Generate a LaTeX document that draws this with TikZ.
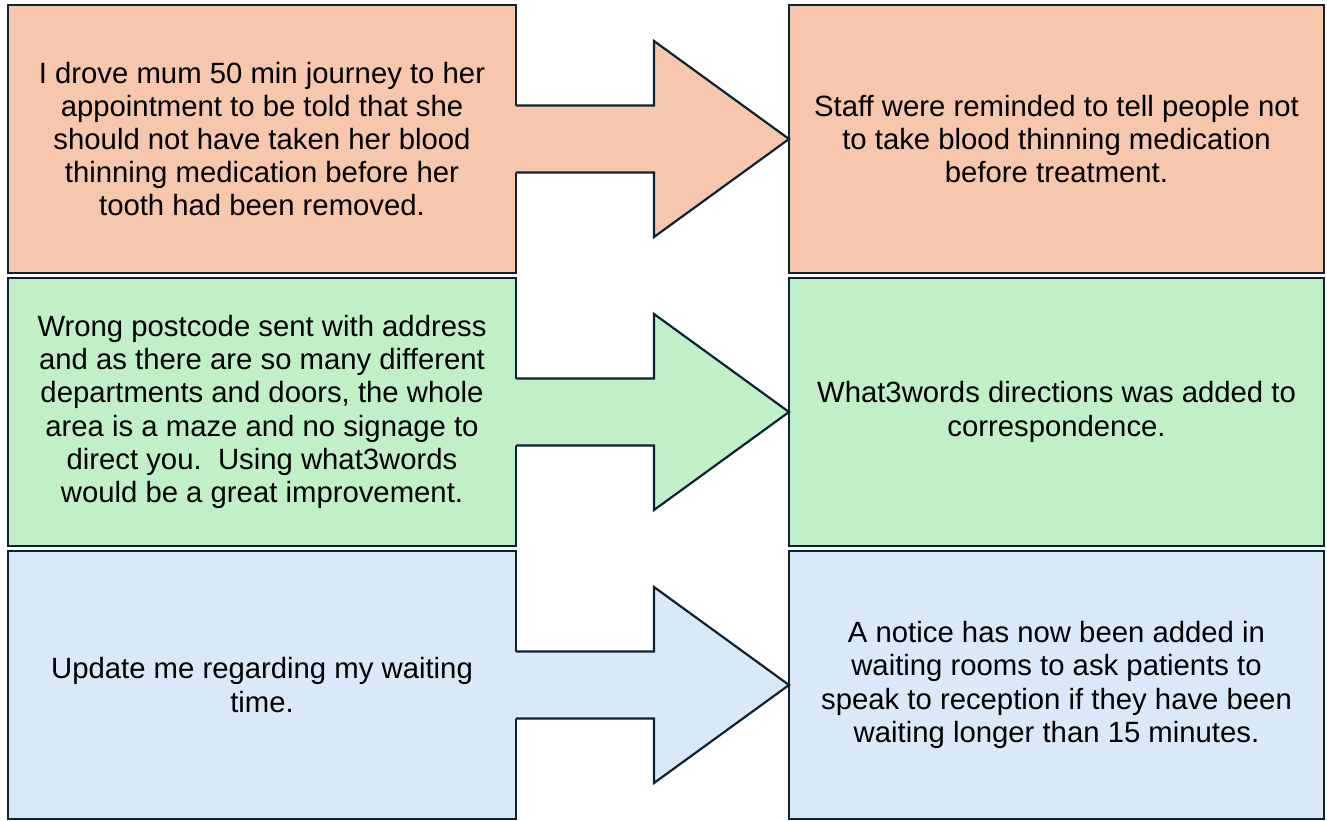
\documentclass[tikz,border=0pt]{standalone}
\usepackage{fontspec}
\setmainfont{Liberation Sans}
\usetikzlibrary{calc}
\definecolor{edge}{RGB}{12,35,52}
\definecolor{peach}{HTML}{F6C6AD}
\definecolor{mint}{HTML}{C1F0C8}
\definecolor{sky}{HTML}{DAE9F8}

% block arrow from the right side of one panel to the left side of the other
\newcommand\flowarrow[3]{%
  \fill[#3] ($(#1.east)+(-2pt,33.5pt)$) -- ($(#2.west)+(-135pt,33.5pt)$)
    -- ($(#2.west)+(-135pt,98pt)$) -- (#2.west)
    -- ($(#2.west)+(-135pt,-98pt)$) -- ($(#2.west)+(-135pt,-33.5pt)$)
    -- ($(#1.east)+(-2pt,-33.5pt)$) -- cycle;
  \draw[edge, line width=2.2pt, line join=miter]
    ($(#1.east)+(0pt,33.5pt)$) -- ($(#2.west)+(-135pt,33.5pt)$)
    -- ($(#2.west)+(-135pt,98pt)$) -- (#2.west)
    -- ($(#2.west)+(-135pt,-98pt)$) -- ($(#2.west)+(-135pt,-33.5pt)$)
    -- ($(#1.east)+(0pt,-33.5pt)$);
}

\begin{document}
\begin{tikzpicture}[x=1pt, y=-1pt,
  panel/.style={draw=edge, line width=2.2pt, align=center, outer sep=0pt,
    inner sep=0pt, minimum height=268pt,
    font=\fontsize{29.3}{33.2}\selectfont},
  leftpanel/.style={panel, minimum width=508pt},
  rightpanel/.style={panel, minimum width=535pt},
]
\useasboundingbox[fill=white] (0,0) rectangle (1327,820);

\node[leftpanel, fill=peach] (q1) at (262,139) {I drove mum 50 min journey to her\\appointment to be told that she\\should not have taken her blood\\thinning medication before her\\tooth had been removed.};
\node[rightpanel, fill=peach] (a1) at (1056.5,139) {Staff were reminded to tell people not\\to take blood thinning medication\\before treatment.};

\node[leftpanel, fill=mint] (q2) at (262,412) {Wrong postcode sent with address\\and as there are so many different\\departments and doors, the whole\\area is a maze and no signage to\\direct you.\ \ Using what3words\\would be a great improvement.};
\node[rightpanel, fill=mint] (a2) at (1056.5,412) {What3words directions was added to\\correspondence.};

\node[leftpanel, fill=sky] (q3) at (262,685) {Update me regarding my waiting\\time.};
\node[rightpanel, fill=sky] (a3) at (1056.5,685) {A notice has now been added in\\waiting rooms to ask patients to\\speak to reception if they have been\\waiting longer than 15 minutes.};

\flowarrow{q1}{a1}{peach}
\flowarrow{q2}{a2}{mint}
\flowarrow{q3}{a3}{sky}
\end{tikzpicture}
\end{document}
